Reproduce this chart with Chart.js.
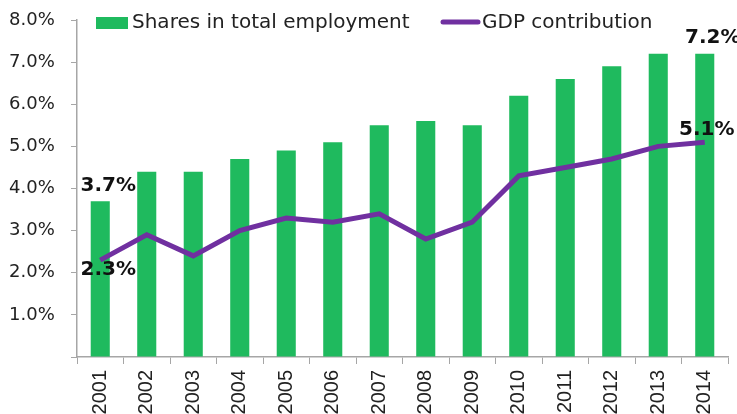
<!DOCTYPE html>
<html>
<head>
<meta charset="utf-8">
<script src="https://cdn.jsdelivr.net/npm/chart.js@4.4.0/dist/chart.umd.min.js"></script>
<style>
  html, body { margin: 0; padding: 0; background: #fff; }
  #wrap { width: 737px; height: 414px; position: relative; }
</style>
</head>
<body>
<div id="wrap"><canvas id="chart"></canvas></div>
<script>
const years = ['2001', '2002', '2003', '2004', '2005', '2006', '2007',
  '2008', '2009', '2010', '2011', '2012', '2013', '2014'];
const employmentShare = [3.7, 4.4, 4.4, 4.7, 4.9, 5.1, 5.5, 5.6, 5.5, 6.2, 6.6, 6.9, 7.2, 7.2];
const gdpContribution = [2.3, 2.9, 2.4, 3.0, 3.3, 3.2, 3.4, 2.8, 3.2, 4.3, 4.5, 4.7, 5.0, 5.1];
const seriesNames = ['Shares in total employment', 'GDP contribution'];
const yTicks = [1, 2, 3, 4, 5, 6, 7, 8];
// which points carry a value label: [dataset, index, dx, dy]  (0 = bars, 1 = line)
const labelled = [[0, 0, 8, -15], [1, 0, 8, 10], [0, 13, 8, -16], [1, 13, 2, -12]];

const GREEN = '#1fba5e';
const PURPLE = '#7030a0';
const AXIS = '#a6a6a6';

const valueLabels = {
  id: 'valueLabels',
  afterDatasetsDraw(chart) {
    const ctx = chart.ctx;
    ctx.save();
    ctx.font = 'bold 20px "DejaVu Sans"';
    ctx.fillStyle = '#111';
    ctx.textAlign = 'center';
    ctx.textBaseline = 'middle';
    labelled.forEach(([ds, i, dx, dy]) => {
      const el = chart.getDatasetMeta(ds).data[i];
      const v = chart.data.datasets[ds].data[i];
      ctx.fillText(v.toFixed(1) + '%', el.x + dx, el.y + dy);
    });
    ctx.restore();
  }
};

const topLegend = {
  id: 'topLegend',
  afterDraw(chart) {
    const ctx = chart.ctx;
    ctx.save();
    ctx.font = '20px "DejaVu Sans"';
    ctx.textBaseline = 'middle';
    ctx.fillStyle = GREEN;
    ctx.fillRect(96, 17, 32, 12);
    ctx.fillStyle = '#222';
    ctx.fillText(seriesNames[0], 132, 23);
    ctx.strokeStyle = PURPLE;
    ctx.lineWidth = 5;
    ctx.lineCap = 'round';
    ctx.beginPath();
    ctx.moveTo(443, 22);
    ctx.lineTo(478, 22);
    ctx.stroke();
    ctx.fillText(seriesNames[1], 482, 23);
    ctx.restore();
  }
};

new Chart(document.getElementById('chart'), {
  type: 'bar',
  data: {
    labels: years,
    datasets: [
      {
        label: seriesNames[0],
        data: employmentShare,
        backgroundColor: GREEN,
        barPercentage: 0.41,
        categoryPercentage: 1,
        order: 1
      },
      {
        type: 'line',
        label: seriesNames[1],
        data: gdpContribution,
        borderColor: PURPLE,
        borderWidth: 5,
        pointRadius: 0,
        tension: 0,
        order: 0
      }
    ]
  },
  options: {
    responsive: true,
    maintainAspectRatio: false,
    animation: false,
    layout: { padding: { top: 20, right: 9, left: 9, bottom: 0 } },
    plugins: { legend: { display: false }, tooltip: { enabled: false } },
    scales: {
      x: {
        offset: true,
        grid: { drawOnChartArea: false, color: AXIS, tickLength: 7, offset: true },
        border: { color: AXIS, width: 1.5 },
        ticks: {
          color: '#222',
          font: { family: '"Liberation Sans"', size: 20 },
          minRotation: 90,
          maxRotation: 90,
          padding: 6,
          autoSkip: false
        },
        afterFit(scale) { scale.height = 57; }
      },
      y: {
        min: 0,
        max: 8,
        afterBuildTicks(scale) {
          scale.ticks = [0].concat(yTicks).map((v) => ({ value: v }));
        },
        grid: { drawOnChartArea: false, color: AXIS, tickLength: 6 },
        border: { color: AXIS, width: 1.5 },
        ticks: {
          color: '#222',
          font: { family: '"DejaVu Sans"', size: 18 },
          crossAlign: 'far',
          callback: (v) => (v === 0 ? '' : v.toFixed(1) + '%')
        },
        afterFit(scale) {
          scale.width = 68;
          scale.paddingTop = 0;
        }
      }
    }
  },
  plugins: [valueLabels, topLegend]
});
</script>
</body>
</html>
